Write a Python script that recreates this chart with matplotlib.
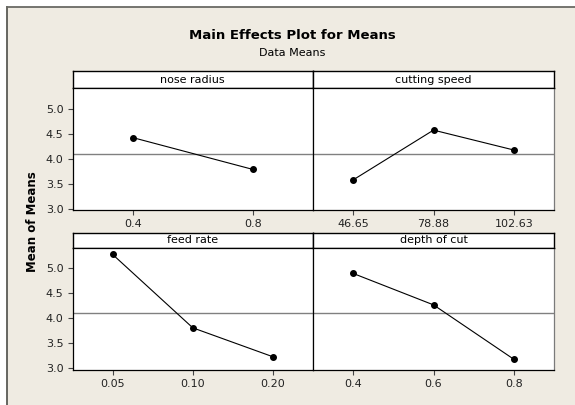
import matplotlib
matplotlib.use("Agg")
import matplotlib.pyplot as plt
from matplotlib.lines import Line2D

plt.rcParams['font.family'] = ['DejaVu Sans']

factors = ["nose radius", "cutting speed", "feed rate", "depth of cut"]
levels = [["0.4", "0.8"],
          ["46.65", "78.88", "102.63"],
          ["0.05", "0.10", "0.20"],
          ["0.4", "0.6", "0.8"]]
means = [[4.43, 3.79],
         [3.58, 4.58, 4.18],
         [5.28, 3.81, 3.23],
         [4.90, 4.27, 3.18]]
grand_mean = 4.11
yticks = [3.0, 3.5, 4.0, 4.5, 5.0]

W, H = 575, 405
bg = "#efebe2"
fig = plt.figure(figsize=(W / 100, H / 100), dpi=100)
fig.patch.set_facecolor("white")

def fx(px):
    return px / W

def fy(py):
    return 1 - py / H

# beige frame area
fig.patches.append(plt.Rectangle((fx(7), 0), 1 - fx(7), fy(7), transform=fig.transFigure,
                                 facecolor=bg, edgecolor="none", zorder=-10))
fig.lines.append(Line2D([fx(7), fx(7)], [0, fy(7)], transform=fig.transFigure,
                        color="#5a5a55", lw=1.3, zorder=-5))
fig.lines.append(Line2D([fx(7), 1], [fy(7), fy(7)], transform=fig.transFigure,
                        color="#6a6a64", lw=1.3, zorder=-5))

cols = [(72.6, 313.0), (313.0, 554.0)]
rows = [dict(strip=(71.0, 88.3), ax=(88.3, 210.0)),
        dict(strip=(232.5, 247.5), ax=(247.5, 369.5))]

for i, name in enumerate(factors):
    r, c = divmod(i, 2)
    x0, x1 = cols[c]
    st, sb = rows[r]["strip"]
    at, ab = rows[r]["ax"]
    # strip
    sax = fig.add_axes([fx(x0), fy(sb), fx(x1 - x0), (sb - st) / H])
    sax.set_xticks([]); sax.set_yticks([])
    sax.set_facecolor("white")
    for s in sax.spines.values():
        s.set_color("black"); s.set_linewidth(1.0)
    sax.text(0.5, 0.5, name, ha="center", va="center", fontsize=8, transform=sax.transAxes)
    # data axes
    ax = fig.add_axes([fx(x0), fy(ab), fx(x1 - x0), (ab - at) / H])
    ax.set_facecolor("white")
    n = len(levels[i])
    xs = list(range(1, n + 1))
    ax.set_xlim(0.5, n + 0.5)
    ax.set_ylim(2.975, 5.42)
    ax.axhline(grand_mean, color="#808080", lw=1.0, zorder=1)
    ax.plot(xs, means[i], color="black", lw=0.8, marker="o", markersize=4, zorder=3)
    ax.set_xticks(xs)
    ax.set_xticklabels(levels[i], fontsize=8, color="#222222")
    ax.tick_params(axis="x", length=3.5, width=0.8, color="#444444", pad=3)
    if c == 0:
        ax.set_yticks(yticks)
        ax.set_yticklabels([f"{v:.1f}" for v in yticks], fontsize=8, color="#222222")
        ax.tick_params(axis="y", length=3.5, width=0.8, color="#444444", pad=3)
    else:
        ax.set_yticks([])
    for s in ax.spines.values():
        s.set_color("black"); s.set_linewidth(0.9)
    ax.spines["right"].set_color("#7a7a7a")

fig.text(fx(292), fy(35.7), "Main Effects Plot for Means", ha="center", va="center",
         fontsize=9.5, fontweight="bold")
fig.text(fx(292), fy(53.3), "Data Means", ha="center", va="center", fontsize=8)
fig.text(fx(32), fy(222), "Mean of Means", ha="center", va="center", rotation=90,
         fontsize=8.5, fontweight="bold")

fig.savefig("out.png", dpi=100, facecolor=fig.get_facecolor())
